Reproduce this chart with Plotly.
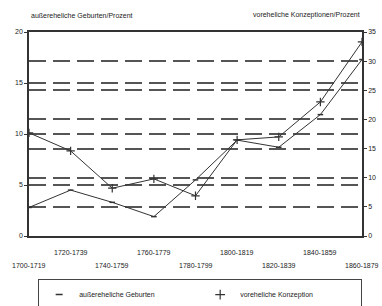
import plotly.graph_objects as go

periods = ["1700-1719", "1720-1739", "1740-1759", "1760-1779", "1780-1799",
           "1800-1819", "1820-1839", "1840-1859", "1860-1879"]
geburten = [2.8, 4.5, 3.3, 1.9, 5.5, 9.4, 8.7, 11.9, 17.3]       # left axis, %
konzeptionen = [17.7, 14.6, 8.2, 9.8, 6.9, 16.5, 17.0, 23.0, 33.3]  # right axis, %

left_title = "außereheliche Geburten/Prozent"
right_title = "voreheliche Konzeptionen/Prozent"
legend_names = ["außereheliche Geburten", "voreheliche Konzeption"]

FONT = dict(family="Liberation Sans, Arial, sans-serif", size=7, color="#222")
LINE = "#333"
GRID = "#555"

x_idx = list(range(len(periods)))

fig = go.Figure()
fig.add_trace(go.Scatter(
    x=x_idx, y=geburten, mode="lines+markers", yaxis="y",
    line=dict(color=LINE, width=1),
    marker=dict(symbol="line-ew", size=4, line=dict(color=LINE, width=1.5)),
    showlegend=False))
fig.add_trace(go.Scatter(
    x=x_idx, y=konzeptionen, mode="lines+markers", yaxis="y2",
    line=dict(color=LINE, width=1),
    marker=dict(symbol="cross-thin", size=6, line=dict(color=LINE, width=1.2)),
    showlegend=False))
# legend-only entries
fig.add_trace(go.Scatter(
    x=[None], y=[None], mode="markers", name=legend_names[0],
    marker=dict(symbol="line-ew", size=5, line=dict(color=LINE, width=1.5))))
fig.add_trace(go.Scatter(
    x=[None], y=[None], mode="markers", name=legend_names[1],
    marker=dict(symbol="cross-thin", size=7, line=dict(color=LINE, width=1.2))))

for i, p in enumerate(periods):
    fig.add_annotation(x=i, xref="x", y=0, yref="paper", text=p,
                       showarrow=False, yanchor="top", xanchor="center",
                       yshift=-11 if i % 2 else -24, font=FONT)

fig.add_annotation(x=0, xref="paper", y=1, yref="paper", text=left_title,
                   showarrow=False, xanchor="left", yanchor="bottom",
                   yshift=11, font=FONT)
fig.add_annotation(x=1, xref="paper", y=1, yref="paper", text=right_title,
                   showarrow=False, xanchor="right", yanchor="bottom",
                   yshift=11, font=FONT)

fig.update_layout(
    width=382, height=306,
    margin=dict(l=29, r=20, t=32, b=70, autoexpand=False),
    paper_bgcolor="white", plot_bgcolor="white",
    font=FONT,
    xaxis=dict(range=[0, len(periods) - 1], showticklabels=False,
               showgrid=False, zeroline=False, showline=True, mirror=True,
               linecolor=LINE, linewidth=1.5, ticks="", automargin=False),
    yaxis=dict(range=[0, 20], dtick=5, showgrid=True, gridcolor=GRID,
               gridwidth=1.5, griddash="17px,7px", zeroline=False,
               showline=True, linecolor=LINE, linewidth=1.5,
               ticks="outside", ticklen=3, tickcolor=LINE, tickfont=FONT,
               automargin=False),
    yaxis2=dict(range=[0, 35], dtick=5, overlaying="y", side="right",
                showgrid=True, gridcolor=GRID, gridwidth=1.5,
                griddash="17px,7px", zeroline=False, showline=True,
                linecolor=LINE, linewidth=1.5, ticks="outside", ticklen=3,
                tickcolor=LINE, tickfont=FONT, automargin=False),
    showlegend=True,
    legend=dict(orientation="h", xref="container", yref="container",
                x=0.524, xanchor="center", y=0.088, yanchor="top",
                bordercolor="#444", borderwidth=1,
                font=FONT, entrywidth=116, entrywidthmode="pixels",
                itemwidth=30, bgcolor="white"),
)

fig.write_html("out.html",
               config={"displayModeBar": False},
               post_script="document.body.style.margin='0';"
                           "document.body.style.overflow='hidden';")
